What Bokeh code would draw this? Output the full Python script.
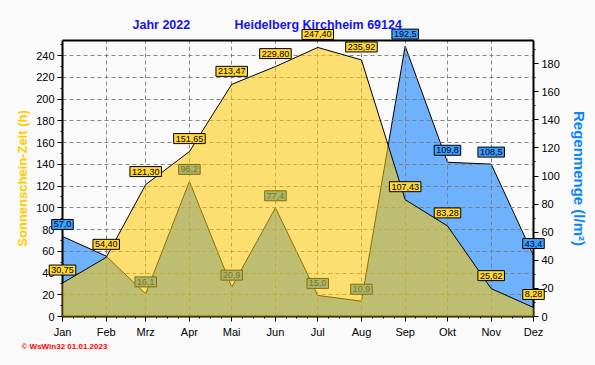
import pandas as pd
from bokeh.plotting import figure
from bokeh.models import Range1d, LinearAxis, FixedTicker, Label, Grid
from bokeh.embed import file_html
from bokeh.resources import INLINE

# ---------------- data ----------------
YEAR = 2022
STATION = "Heidelberg Kirchheim 69124"
FOOTER = "© WsWin32  01.01.2023"
MONTHS = ["Jan", "Feb", "Mrz", "Apr", "Mai", "Jun", "Jul", "Aug", "Sep", "Okt", "Nov", "Dez"]
SUN = [30.75, 54.40, 121.30, 151.65, 213.47, 229.80, 247.40, 235.92, 107.43, 83.28, 25.62, 8.28]
RAIN = [57.0, 43.0, 16.1, 96.2, 20.9, 77.4, 15.0, 10.9, 192.5, 109.8, 108.5, 43.4]
LEFT_TICKS = list(range(0, 241, 20))
RIGHT_TICKS = list(range(0, 181, 20))
LEFT_MAX = 253.8
RIGHT_MAX = 196.5

# x positions: days since 1 Jan (first of each month)
dates = pd.date_range(f"{YEAR}-01-01", periods=12, freq="MS")
X = [int((d - dates[0]).days) for d in dates]
X_MINOR = [X[i] + (X[i + 1] - X[i]) * k / 4 for i in range(len(X) - 1) for k in (1, 2, 3)]

# ---------------- layout (pixels) ----------------
W, H = 595, 365
PL, PR, PT, PB = 62, 533, 40, 316          # plot-area box inside the canvas
FONT = "Liberation Sans"
BG = "#FAFAFA"

kx = (X[-1] - X[0]) / (PR - PL)
kl = LEFT_MAX / (PB - PT)
kr = RIGHT_MAX / (PB - PT)
x_range = Range1d(X[0] - PL * kx, X[-1] + (W - PR) * kx)
y_range = Range1d(-(H - PB) * kl, LEFT_MAX + PT * kl)
rain_range = Range1d(-(H - PB) * kr, RIGHT_MAX + PT * kr)

p = figure(width=W, height=H, output_backend="svg", toolbar_location=None,
           x_range=x_range, y_range=y_range, x_axis_type=None, y_axis_type=None,
           min_border=0, background_fill_color=BG, border_fill_color=BG)
p.outline_line_color = None
p.extra_y_ranges = {"rain": rain_range}


def style_axis(ax):
    ax.axis_line_color = "black"
    ax.axis_line_width = 2
    ax.major_tick_line_color = "black"
    ax.minor_tick_line_color = "black"
    ax.major_tick_in = 0
    ax.minor_tick_in = 0
    ax.major_tick_out = 5
    ax.minor_tick_out = 2
    ax.major_label_text_font = FONT
    ax.major_label_text_font_size = "11px"
    ax.major_label_text_color = "black"
    ax.axis_label_text_font = FONT
    ax.axis_label_text_font_style = "bold"


# bottom axis (months)
xax = LinearAxis(ticker=FixedTicker(ticks=X, minor_ticks=X_MINOR),
                 major_label_overrides={x: m for x, m in zip(X, MONTHS)},
                 fixed_location=0, bounds=(X[0], X[-1]))
style_axis(xax)
xax.major_label_standoff = 4
p.add_layout(xax, "below")

# top border
tax = LinearAxis(ticker=FixedTicker(ticks=[]), fixed_location=LEFT_MAX, bounds=(X[0], X[-1]))
style_axis(tax)
p.add_layout(tax, "above")

# left axis (sunshine)
lax = LinearAxis(ticker=FixedTicker(ticks=LEFT_TICKS, minor_ticks=[v + 10 for v in LEFT_TICKS]),
                 fixed_location=X[0], bounds=(0, LEFT_MAX),
                 axis_label="Sonnenschein-Zeit (h)")
style_axis(lax)
lax.axis_label_text_color = "#FFCC00"
lax.axis_label_text_font_size = "13px"
lax.axis_label_standoff = 3
lax.major_label_standoff = 3
p.add_layout(lax, "left")

# right axis (rain)
rax = LinearAxis(y_range_name="rain",
                 ticker=FixedTicker(ticks=RIGHT_TICKS, minor_ticks=[v + 10 for v in RIGHT_TICKS]),
                 fixed_location=X[-1], bounds=(0, RIGHT_MAX),
                 axis_label="Regenmenge (l/m²)")
style_axis(rax)
rax.axis_label_text_color = "#0A84FF"
rax.axis_label_text_font_size = "15px"
rax.axis_label_standoff = 8
rax.major_label_standoff = 3
p.add_layout(rax, "right")

# grids limited to the plot box
xg = Grid(dimension=0, ticker=FixedTicker(ticks=X[1:-1]), cross_bounds=(0, LEFT_MAX))
yg = Grid(dimension=1, ticker=FixedTicker(ticks=LEFT_TICKS[1:]), cross_bounds=(X[0], X[-1]))
for g in (xg, yg):
    g.grid_line_color = "#7A7A7A"
    g.grid_line_dash = "4 3"
    g.grid_line_width = 1
    g.grid_line_alpha = 0.9
    p.add_layout(g)

# rain series (drawn underneath)
p.varea(x=X, y1=0, y2=RAIN, fill_color="#0078FF", fill_alpha=0.56,
        y_range_name="rain", level="underlay")
p.line(X, RAIN, line_color="black", line_width=1, y_range_name="rain", level="underlay")


def fmt(v, nd):
    return f"{v:.{nd}f}".replace(".", ",")


for i, (xi, v) in enumerate(zip(X, RAIN)):
    if MONTHS[i] == "Feb":
        continue
    p.add_layout(Label(x=xi, y=v, y_range_name="rain", text=fmt(v, 1),
                       text_align="center", text_baseline="middle", y_offset=12,
                       text_font=FONT, text_font_size="9px", text_color="black",
                       background_fill_color="#3C9EFF", border_line_color="black",
                       border_line_width=1, padding=2, level="guide"))

# sunshine series (semi-transparent overlay)
p.varea(x=X, y1=0, y2=SUN, fill_color="#FFC800", fill_alpha=0.55, level="annotation")
p.line(X, SUN, line_color="black", line_width=1, level="annotation")

for xi, v in zip(X, SUN):
    p.add_layout(Label(x=xi, y=v, text=fmt(v, 2),
                       text_align="center", text_baseline="middle", y_offset=13,
                       text_font=FONT, text_font_size="9px", text_color="black",
                       background_fill_color="#FFD633", border_line_color="black",
                       border_line_width=1, padding=2, level="overlay"))

# titles & footer (screen units)
for tx, txt in ((132, f"Jahr  {YEAR}"), (234, STATION)):
    p.add_layout(Label(x=tx, y=H - 24, x_units="screen", y_units="screen", text=txt,
                       text_font=FONT, text_font_size="12.5px", text_font_style="bold",
                       text_color="#1414F0", text_baseline="middle", level="overlay"))
p.add_layout(Label(x=21, y=H - 346, x_units="screen", y_units="screen", text=FOOTER,
                   text_font=FONT, text_font_size="8px", text_font_style="bold",
                   text_color="#FF0000", text_baseline="middle", level="overlay"))

open("out.html", "w").write(file_html(p, INLINE))
